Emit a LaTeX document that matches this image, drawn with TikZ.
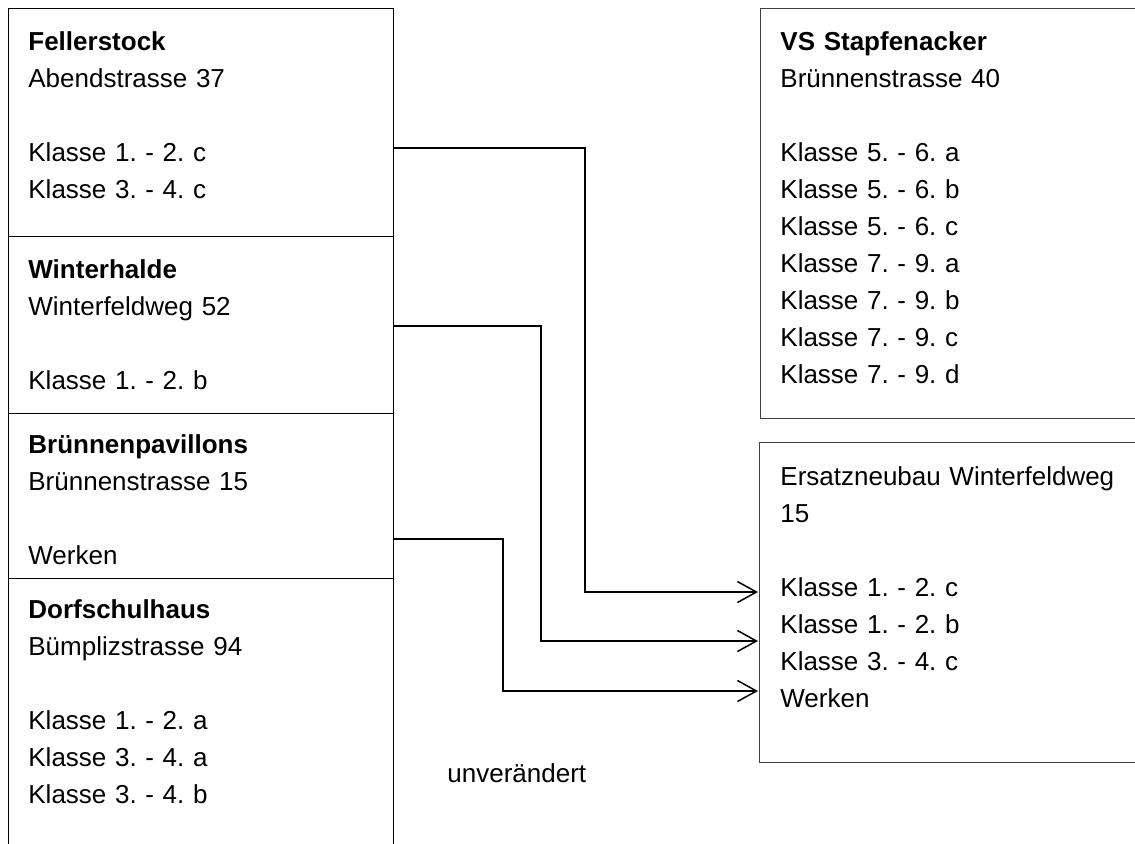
\documentclass[tikz,border=0pt]{standalone}
\usepackage{fontspec}
\setmainfont{Liberation Sans}
\usetikzlibrary{arrows.meta}
\frenchspacing

\tikzset{
	house/.style={draw=black, line width=0.7pt, minimum width=192.5pt, anchor=north west, inner sep=0pt},
	newhouse/.style={house, draw=black!75, minimum width=195pt},
	info/.style={anchor=base west, align=left, text width=180pt, inner sep=0pt, font=\fontsize{13}{18.5}\selectfont},
	move/.style={-{Straight Barb[length=9.5pt,width=10.5pt,line width=0.75pt]}, line width=0.7pt},
}

\begin{document}
\begin{tikzpicture}[x=0.5pt, y=-0.5pt]
	
	\useasboundingbox (0,0) rectangle (1135,843);
	\clip (0,0) rectangle (1135,843);
	
	% bisherige Standorte
	\node[house, minimum height=114pt]   (fell) at (8, 8)   {};
	\node[house, minimum height=88.5pt]  (wint) at (8, 236) {};
	\node[house, minimum height=82.5pt]  (brue) at (8, 413) {};
	\node[house, minimum height=161pt]   (dorf) at (8, 578) {};
	
	\node[info] (fell-t) at ([shift={(20,42)}]fell.north west) {\textbf{Fellerstock}\\Abendstrasse 37\\[18.5pt]Klasse 1. - 2. c\\Klasse 3. - 4. c};
	\node[info] (wint-t) at ([shift={(20,42)}]wint.north west) {\textbf{Winterhalde}\\Winterfeldweg 52\\[18.5pt]Klasse 1. - 2. b};
	\node[info] (brue-t) at ([shift={(20,40)}]brue.north west) {\textbf{Brünnenpavillons}\\Brünnenstrasse 15\\[18.5pt]Werken};
	\node[info] (dorf-t) at ([shift={(20,40)}]dorf.north west) {\textbf{Dorfschulhaus}\\Bümplizstrasse 94\\[18.5pt]Klasse 1. - 2. a\\Klasse 3. - 4. a\\Klasse 3. - 4. b};
	
	% neue Standorte
	\node[newhouse, minimum height=205pt] (vs)  at (760, 8)   {};
	\node[newhouse, minimum height=160pt] (neu) at (759, 442) {};
	
	\node[info] (vs-t)  at ([shift={(20,42)}]vs.north west)  {\textbf{VS Stapfenacker}\\Brünnenstrasse 40\\[18.5pt]Klasse 5. - 6. a\\Klasse 5. - 6. b\\Klasse 5. - 6. c\\Klasse 7. - 9. a\\Klasse 7. - 9. b\\Klasse 7. - 9. c\\Klasse 7. - 9. d};
	\node[info] (neu-t) at ([shift={(21,43)}]neu.north west) {Ersatzneubau Winterfeldweg\\15\\[18.5pt]Klasse 1. - 2. c\\Klasse 1. - 2. b\\Klasse 3. - 4. c\\Werken};
	
	\node[info] (same) at (447, 782) {unverändert};
	
	\coordinate (s1) at (393, 148);
	\coordinate (s2) at (393, 326);
	\coordinate (s3) at (393, 539);
	\coordinate (e1) at (758, 592);
	\coordinate (e2) at (758, 641);
	\coordinate (e3) at (758, 691);
	
	\draw[move] (s1) -- ++(192,0) |- (e1);
	\draw[move] (s2) -- ++(148,0) |- (e2);
	\draw[move] (s3) -- ++(110,0) |- (e3);
	
\end{tikzpicture}
\end{document}
